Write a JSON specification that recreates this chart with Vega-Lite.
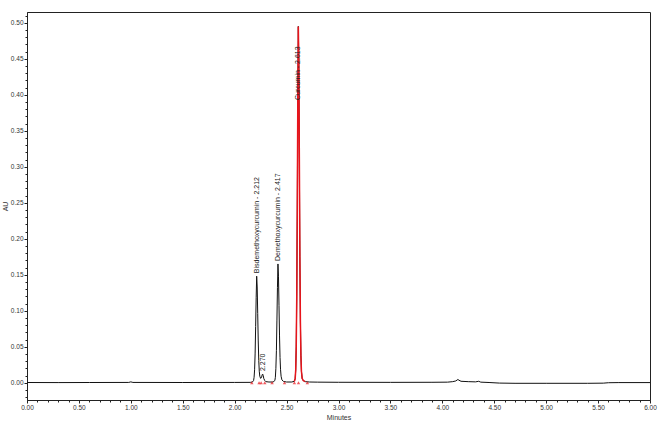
{
  "$schema": "https://vega.github.io/schema/vega-lite/v6.json",
  "width": 623,
  "height": 388,
  "autosize": {"type": "none"},
  "padding": {"left": 27, "top": 12, "right": 13, "bottom": 31},
  "background": "white",
  "config": {
    "view": {"stroke": "#222", "strokeWidth": 1},
    "font": "Liberation Sans",
    "axis": {"labelFont": "Liberation Sans", "titleFont": "Liberation Sans", "labelFontSize": 6.5, "titleFontSize": 7, "titleFontWeight": "normal", "labelColor": "#333", "titleColor": "#333", "domainColor": "#222", "tickColor": "#222", "grid": false, "tickSize": 3, "labelPadding": 1, "labelOverlap": false}
  },
  "resolve": {"axis": {"x": "independent", "y": "independent"}},
  "datasets": {
    "trace": [
      {"t": 0.00, "au": 0.0003}, {"t": 0.30, "au": 0.0002}, {"t": 0.60, "au": 0.0003},
      {"t": 0.98, "au": 0.0004}, {"t": 1.00, "au": 0.0012}, {"t": 1.02, "au": 0.0004},
      {"t": 1.50, "au": 0.0003}, {"t": 2.00, "au": 0.0004}, {"t": 2.15, "au": 0.0005},
      {"t": 2.17, "au": 0.0009}, {"t": 2.182, "au": 0.003}, {"t": 2.187, "au": 0.0075},
      {"t": 2.192, "au": 0.018}, {"t": 2.197, "au": 0.040}, {"t": 2.202, "au": 0.078},
      {"t": 2.207, "au": 0.118}, {"t": 2.212, "au": 0.148}, {"t": 2.217, "au": 0.133},
      {"t": 2.222, "au": 0.096}, {"t": 2.227, "au": 0.058}, {"t": 2.232, "au": 0.031},
      {"t": 2.237, "au": 0.016}, {"t": 2.242, "au": 0.009}, {"t": 2.25, "au": 0.006},
      {"t": 2.26, "au": 0.008}, {"t": 2.265, "au": 0.011}, {"t": 2.270, "au": 0.012},
      {"t": 2.275, "au": 0.010}, {"t": 2.28, "au": 0.006}, {"t": 2.29, "au": 0.003},
      {"t": 2.30, "au": 0.0015}, {"t": 2.33, "au": 0.001}, {"t": 2.37, "au": 0.001},
      {"t": 2.387, "au": 0.003}, {"t": 2.392, "au": 0.0075}, {"t": 2.397, "au": 0.02},
      {"t": 2.402, "au": 0.045}, {"t": 2.407, "au": 0.087}, {"t": 2.412, "au": 0.132},
      {"t": 2.417, "au": 0.165}, {"t": 2.422, "au": 0.148}, {"t": 2.427, "au": 0.107},
      {"t": 2.432, "au": 0.065}, {"t": 2.437, "au": 0.035}, {"t": 2.442, "au": 0.018},
      {"t": 2.447, "au": 0.009}, {"t": 2.455, "au": 0.004}, {"t": 2.47, "au": 0.0018},
      {"t": 2.50, "au": 0.001}, {"t": 2.55, "au": 0.001}, {"t": 2.575, "au": 0.002},
      {"t": 2.583, "au": 0.006}, {"t": 2.588, "au": 0.018}, {"t": 2.593, "au": 0.05},
      {"t": 2.598, "au": 0.12}, {"t": 2.603, "au": 0.24}, {"t": 2.608, "au": 0.39},
      {"t": 2.613, "au": 0.495}, {"t": 2.618, "au": 0.44}, {"t": 2.623, "au": 0.31},
      {"t": 2.628, "au": 0.175}, {"t": 2.633, "au": 0.085}, {"t": 2.638, "au": 0.038},
      {"t": 2.643, "au": 0.016}, {"t": 2.65, "au": 0.006}, {"t": 2.66, "au": 0.003},
      {"t": 2.68, "au": 0.0015}, {"t": 2.72, "au": 0.001}, {"t": 2.80, "au": 0.0008},
      {"t": 3.00, "au": 0.0006}, {"t": 3.50, "au": 0.0005}, {"t": 3.90, "au": 0.0006},
      {"t": 4.05, "au": 0.0008}, {"t": 4.10, "au": 0.0015}, {"t": 4.13, "au": 0.0025},
      {"t": 4.15, "au": 0.0045}, {"t": 4.16, "au": 0.0035}, {"t": 4.18, "au": 0.002},
      {"t": 4.25, "au": 0.0015}, {"t": 4.32, "au": 0.0012}, {"t": 4.35, "au": 0.002},
      {"t": 4.37, "au": 0.0008}, {"t": 4.45, "au": 0.0003}, {"t": 4.55, "au": -0.0005},
      {"t": 4.70, "au": -0.0008}, {"t": 5.00, "au": -0.0008}, {"t": 5.40, "au": -0.0008},
      {"t": 5.55, "au": -0.0006}, {"t": 5.60, "au": 0.0000}, {"t": 5.70, "au": 0.0002},
      {"t": 6.00, "au": 0.0002}
    ],
    "marks": [
      {"t": 2.165, "au": 0}, {"t": 2.235, "au": 0}, {"t": 2.255, "au": 0},
      {"t": 2.29, "au": 0}, {"t": 2.36, "au": 0}, {"t": 2.48, "au": 0},
      {"t": 2.575, "au": 0}, {"t": 2.615, "au": 0}, {"t": 2.70, "au": 0}
    ],
    "peaks": [
      {"t": 2.212, "au": 0.148, "label": "Bisdemethoxycurcumin - 2.212", "pos": "above"},
      {"t": 2.270, "au": 0.012, "label": "2.270", "pos": "above"},
      {"t": 2.417, "au": 0.165, "label": "Demethoxycurcumin - 2.417", "pos": "above"},
      {"t": 2.613, "au": 0.495, "label": "Curcumin - 2.613", "pos": "below"}
    ]
  },
  "layer": [
    {
      "data": {"name": "trace"},
      "mark": {"type": "line", "color": "#111", "strokeWidth": 1, "clip": true},
      "encoding": {
        "x": {"field": "t", "type": "quantitative", "scale": {"domain": [0, 6], "nice": false, "zero": false},
              "axis": {"title": "Minutes", "values": [0,0.5,1,1.5,2,2.5,3,3.5,4,4.5,5,5.5,6], "format": ".2f", "titlePadding": 3, "labelFlush": false, "orient": "bottom"}},
        "y": {"field": "au", "type": "quantitative", "scale": {"domain": [-0.024, 0.515], "nice": false, "zero": false},
              "axis": {"title": "AU", "values": [0,0.05,0.1,0.15,0.2,0.25,0.3,0.35,0.4,0.45,0.5], "format": ".2f", "titlePadding": 2, "labelFlush": false, "orient": "left"}}
      }
    },
    {
      "data": {"name": "trace"},
      "transform": [{"filter": {"field": "t", "range": [2.56, 2.70]}}],
      "mark": {"type": "line", "color": "#e8141b", "strokeWidth": 1.5, "clip": true},
      "encoding": {
        "x": {"field": "t", "type": "quantitative",
              "axis": {"orient": "bottom", "title": null, "labels": false, "domain": false, "tickSize": 2,
                       "values": [0.1,0.2,0.3,0.4,0.6,0.7,0.8,0.9,1.1,1.2,1.3,1.4,1.6,1.7,1.8,1.9,2.1,2.2,2.3,2.4,2.6,2.7,2.8,2.9,3.1,3.2,3.3,3.4,3.6,3.7,3.8,3.9,4.1,4.2,4.3,4.4,4.6,4.7,4.8,4.9,5.1,5.2,5.3,5.4,5.6,5.7,5.8,5.9]}},
        "y": {"field": "au", "type": "quantitative",
              "axis": {"orient": "left", "title": null, "labels": false, "domain": false, "tickSize": 2,
                       "values": [-0.02,-0.01,0.01,0.02,0.03,0.04,0.06,0.07,0.08,0.09,0.11,0.12,0.13,0.14,0.16,0.17,0.18,0.19,0.21,0.22,0.23,0.24,0.26,0.27,0.28,0.29,0.31,0.32,0.33,0.34,0.36,0.37,0.38,0.39,0.41,0.42,0.43,0.44,0.46,0.47,0.48,0.49,0.51]}}
      }
    },
    {
      "data": {"name": "marks"},
      "mark": {"type": "point", "shape": "triangle-up", "color": "#e8141b", "size": 12, "filled": true},
      "encoding": {
        "x": {"field": "t", "type": "quantitative", "axis": null},
        "y": {"field": "au", "type": "quantitative", "axis": null}
      }
    },
    {
      "data": {"name": "peaks"},
      "transform": [{"filter": "datum.pos == 'above'"}],
      "mark": {"type": "text", "angle": 270, "align": "left", "baseline": "middle", "dx": 3, "fontSize": 7, "color": "#222", "font": "Liberation Sans"},
      "encoding": {
        "x": {"field": "t", "type": "quantitative", "axis": null},
        "y": {"field": "au", "type": "quantitative", "axis": null},
        "text": {"field": "label"}
      }
    },
    {
      "data": {"name": "peaks"},
      "transform": [{"filter": "datum.pos == 'below'"}],
      "mark": {"type": "text", "angle": 270, "align": "right", "baseline": "middle", "dx": -20, "fontSize": 7, "color": "#222", "font": "Liberation Sans"},
      "encoding": {
        "x": {"field": "t", "type": "quantitative", "axis": null},
        "y": {"field": "au", "type": "quantitative", "axis": null},
        "text": {"field": "label"}
      }
    }
  ]
}
